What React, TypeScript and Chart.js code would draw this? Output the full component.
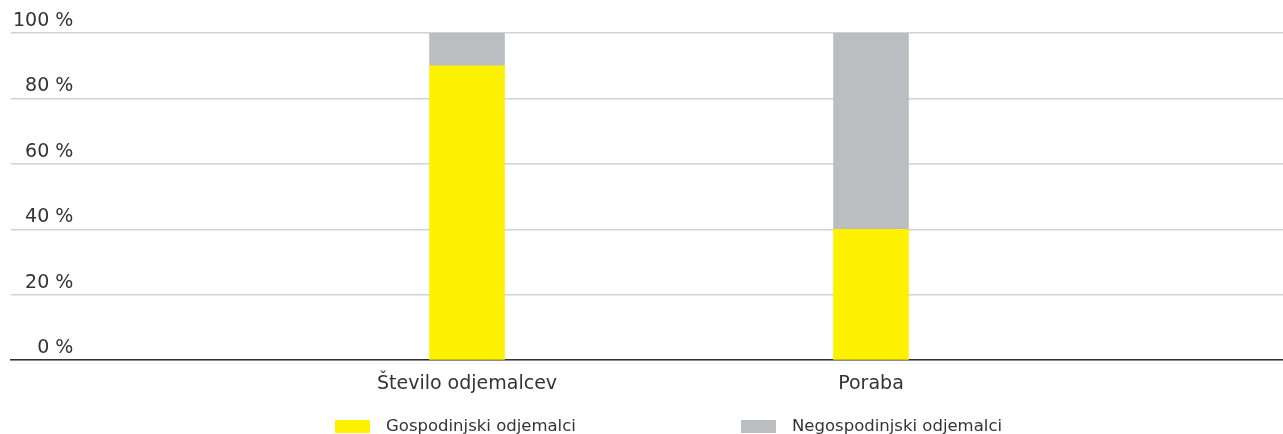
import React, { useEffect, useRef } from "react";
import { Chart, registerables } from "chart.js";

Chart.register(...registerables);

const categories = ["Število odjemalcev", "Poraba"];
const household = [90, 40];
const nonHousehold = [10, 60];
const seriesNames = ["Gospodinjski odjemalci", "Negospodinjski odjemalci"];
const seriesColors = ["#FFF200", "#BCBDC0"];
const yTickValues = [0, 20, 40, 60, 80, 100];

const FONT = "'DejaVu Sans', sans-serif";
const TEXT = "#333333";

export default function App() {
  const canvasRef = useRef<HTMLCanvasElement | null>(null);

  useEffect(() => {
    document.body.style.margin = "0";
    const canvas = canvasRef.current;
    if (!canvas) return;
    const seriesValues = [household, nonHousehold];
    const chart = new Chart(canvas, {
      type: "bar",
      data: {
        datasets: seriesNames.map((name, s) => ({
          label: name,
          data: seriesValues[s].map((v, i) => ({ x: i, y: v })),
          backgroundColor: seriesColors[s],
          borderWidth: 0,
          barThickness: 75,
        })),
      },
      options: {
        animation: false,
        responsive: false,
        maintainAspectRatio: false,
        layout: { padding: { left: 7, right: 0, top: 33, bottom: 27 } },
        plugins: { legend: { display: false }, tooltip: { enabled: false } },
        scales: {
          x: {
            type: "linear",
            stacked: true,
            offset: false,
            min: -1.1287,
            max: 2.0198,
            afterBuildTicks: (scale: any) => {
              scale.ticks = categories.map((_, i) => ({ value: i }));
            },
            grid: { display: false, drawTicks: false, offset: false },
            border: { display: true, color: "#333333", width: 1.5 },
            ticks: {
              autoSkip: false,
              maxRotation: 0,
              padding: 12,
              color: TEXT,
              font: { family: FONT, size: 19 },
              callback: (v: any) => categories[Number(v)] ?? "",
            },
          },
          y: {
            stacked: true,
            min: 0,
            max: 100,
            afterBuildTicks: (scale: any) => {
              scale.ticks = yTickValues.map((v) => ({ value: v }));
            },
            grid: { color: "#D2D2D4", lineWidth: 1.5, drawTicks: false },
            border: { display: false },
            ticks: {
              mirror: true,
              crossAlign: "far",
              padding: 2,
              labelOffset: -12,
              color: TEXT,
              font: { family: FONT, size: 19 },
              callback: (v: any) => v + " %",
            },
          },
        },
      },
    } as any);
    return () => chart.destroy();
  }, []);

  const legendLeft = [335, 741];

  return (
    <div style={{ position: "relative", width: 1283, height: 434 }}>
      <canvas ref={canvasRef} width={1283} height={434} style={{ display: "block" }} />
      {seriesNames.map((name, s) => (
        <div
          key={name}
          style={{
            position: "absolute",
            left: legendLeft[s],
            top: 416,
            display: "flex",
            alignItems: "center",
            fontFamily: FONT,
            fontSize: 16.5,
            color: TEXT,
            whiteSpace: "nowrap",
            lineHeight: "20px",
          }}
        >
          <span
            style={{
              display: "inline-block",
              width: 35,
              height: 13,
              background: seriesColors[s],
              marginRight: 16,
            }}
          />
          <span>{name}</span>
        </div>
      ))}
    </div>
  );
}
